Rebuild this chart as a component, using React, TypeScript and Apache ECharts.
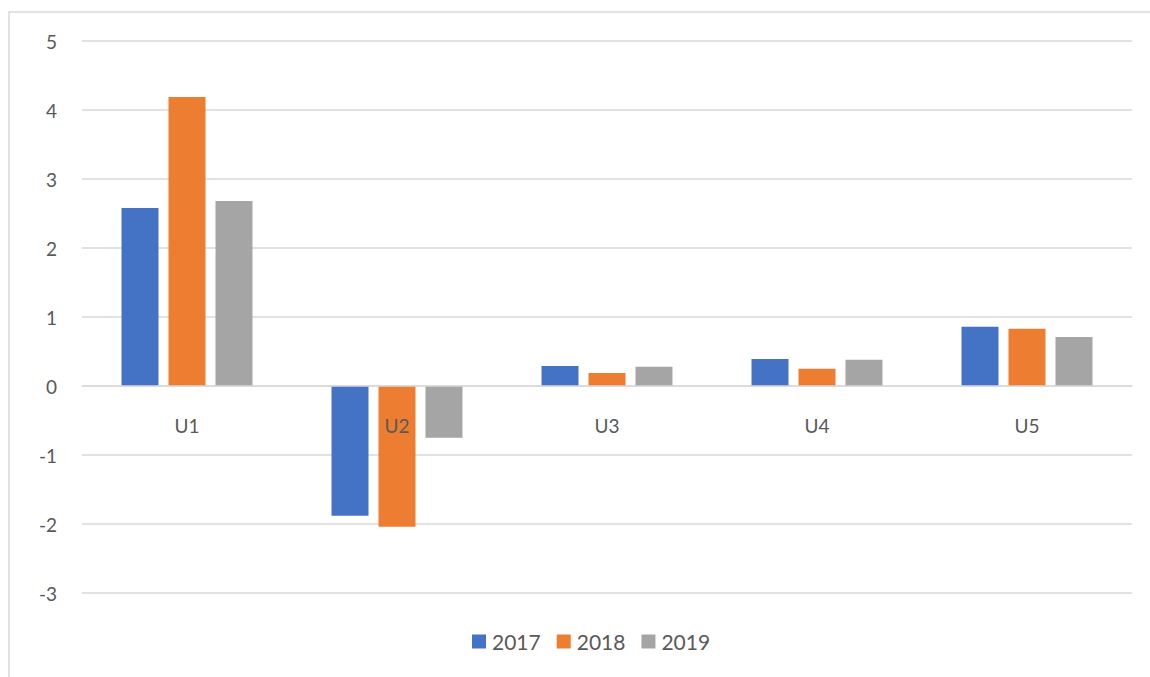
import React, { useEffect, useRef } from "react";
import * as echarts from "echarts";

const categories = ["U1", "U2", "U3", "U4", "U5"];
const seriesNames = ["2017", "2018", "2019"];
const values2017 = [2.58, -1.88, 0.29, 0.39, 0.86];
const values2018 = [4.19, -2.04, 0.19, 0.25, 0.83];
const values2019 = [2.68, -0.75, 0.28, 0.38, 0.71];
const colors = ["#4472C4", "#ED7D31", "#A5A5A5"];

export default function App() {
  const ref = useRef<HTMLDivElement>(null);
  useEffect(() => {
    const chart = echarts.init(ref.current!, null, { renderer: "svg" });
    const data = [values2017, values2018, values2019];
    chart.setOption({
      animation: false,
      textStyle: { fontFamily: "Lato, 'Open Sans', sans-serif" },
      graphic: [
        {
          type: "rect",
          shape: { x: 9, y: 12, width: 1160, height: 700 },
          style: { fill: "none", stroke: "#d9d9d9", lineWidth: 1.5 },
          silent: true,
        },
      ],
      grid: { left: 82, right: 18, top: 41, bottom: 84 },
      legend: {
        bottom: 20,
        left: 467,
        itemWidth: 14,
        itemHeight: 14,
        itemGap: 16,
        icon: "rect",
        textStyle: { fontSize: 21, color: "#595959", padding: [0, 0, 0, 1] },
        data: seriesNames,
      },
      xAxis: {
        type: "category",
        data: categories,
        offset: -207,
        z: 5,
        axisLine: { onZero: false, lineStyle: { color: "#d9d9d9", width: 1.5 } },
        axisTick: { show: false },
        axisLabel: { fontSize: 19, color: "#595959", margin: 30 },
      },
      yAxis: {
        type: "value",
        min: -3,
        max: 5,
        interval: 1,
        axisLine: { show: false },
        axisTick: { show: false },
        axisLabel: { fontSize: 19, color: "#595959", margin: 25 },
        splitLine: { lineStyle: { color: "#d9d9d9", width: 1.5 } },
      },
      series: seriesNames.map((name, i) => ({
        name,
        type: "bar",
        data: data[i],
        barWidth: 37,
        barGap: "27%",
        barCategoryGap: "38%",
        z: 2,
        itemStyle: { color: colors[i] },
      })),
    });
    return () => chart.dispose();
  }, []);
  return (
    <div
      ref={ref}
      style={{ position: "fixed", left: 0, top: 0, width: 1150, height: 677, background: "#fff" }}
    />
  );
}
